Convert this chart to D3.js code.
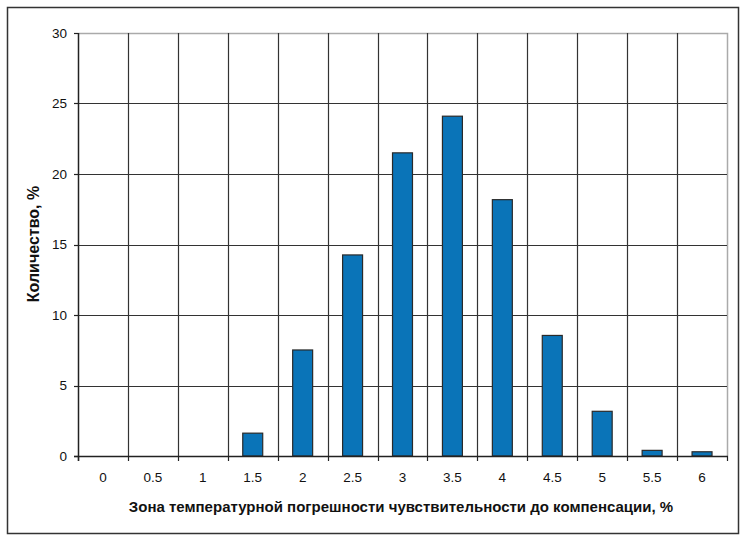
<!DOCTYPE html>
<html><head><meta charset="utf-8">
<script src="https://cdn.jsdelivr.net/npm/d3@7"></script>
<style>body{margin:0;background:#fff}svg{display:block}text{font-family:"Liberation Sans",Arial,sans-serif}</style>
</head><body><svg id="c" width="750" height="543"></svg>
<script>
const categories = ["0","0.5","1","1.5","2","2.5","3","3.5","4","4.5","5","5.5","6"];
const values = [0,0,0,1.62,7.52,14.26,21.5,24.1,18.18,8.55,3.17,0.4,0.3];
const yTicks = [0,5,10,15,20,25,30];
const yTitle = "Количество, %";
const xTitle = "Зона температурной погрешности чувствительности до компенсации, %";

const svg = d3.select("#c");
const L=78,R=727,T=33,B=456;
svg.append("rect").attr("x",7.5).attr("y",7.5).attr("width",731).attr("height",526)
  .attr("fill","#fff").attr("stroke","#333").attr("stroke-width",1.5);

const x = d3.scaleBand().domain(categories).range([L,R]).paddingInner(0.6).paddingOuter(0.3);
const y = d3.scaleLinear().domain([0,30]).range([B,T]);
const step = x.step();
const bounds = categories.map(c=>x(c)-step*0.3).concat([R]);

// plot border (top/right light gray)
svg.append("path").attr("d",`M${L},${T+0.5}H${R+0.5}V${B}`).attr("fill","none").attr("stroke","#aaa").attr("stroke-width",1.5);

// horizontal gridlines
svg.append("g").selectAll("line").data(yTicks.filter(t=>t>0&&t<30)).join("line")
  .attr("x1",L).attr("x2",R).attr("y1",d=>Math.round(y(d))+0.5).attr("y2",d=>Math.round(y(d))+0.5)
  .attr("stroke","#333").attr("stroke-width",1.2);
// vertical gridlines
svg.append("g").selectAll("line").data(bounds.slice(1,-1)).join("line")
  .attr("x1",d=>Math.round(d)+0.5).attr("x2",d=>Math.round(d)+0.5).attr("y1",T).attr("y2",B)
  .attr("stroke","#333").attr("stroke-width",1.2);

// bars
svg.append("g").selectAll("rect").data(categories.map((c,i)=>({c,v:values[i]})).filter(d=>d.v>0)).join("rect")
  .attr("x",d=>x(d.c)).attr("width",x.bandwidth())
  .attr("y",d=>y(d.v)).attr("height",d=>B-y(d.v))
  .attr("fill","#0A74B8").attr("stroke","#2a2a2a").attr("stroke-width",1.2);

// axes lines
svg.append("line").attr("x1",L+0.5).attr("x2",L+0.5).attr("y1",T).attr("y2",B+5).attr("stroke","#222").attr("stroke-width",1.5);
svg.append("line").attr("x1",L-4).attr("x2",R+1).attr("y1",B+0.5).attr("y2",B+0.5).attr("stroke","#222").attr("stroke-width",1.5);
// y ticks
svg.append("g").selectAll("line").data(yTicks).join("line")
  .attr("x1",L-4).attr("x2",L).attr("y1",d=>Math.round(y(d))+0.5).attr("y2",d=>Math.round(y(d))+0.5)
  .attr("stroke","#222").attr("stroke-width",1.2);
svg.append("g").selectAll("text").data(yTicks).join("text")
  .attr("x",L-11).attr("y",d=>y(d)).attr("dy","0.35em").attr("text-anchor","end")
  .attr("font-size",13.5).attr("fill","#111").text(d=>d);
// x ticks
svg.append("g").selectAll("line").data(bounds).join("line")
  .attr("x1",d=>Math.round(d)+0.5).attr("x2",d=>Math.round(d)+0.5).attr("y1",B).attr("y2",B+5)
  .attr("stroke","#222").attr("stroke-width",1.2);
svg.append("g").selectAll("text").data(categories).join("text")
  .attr("x",d=>x(d)+x.bandwidth()/2).attr("y",477).attr("dy","0.35em").attr("text-anchor","middle")
  .attr("font-size",13.5).attr("fill","#111").text(d=>d);

// titles
svg.append("text").attr("x",401).attr("y",512).attr("text-anchor","middle")
  .attr("font-size",15).attr("font-weight","bold").attr("fill","#111").text(xTitle);
svg.append("text").attr("transform","translate(39,244) rotate(-90)").attr("text-anchor","middle")
  .attr("font-size",16).attr("font-weight","bold").attr("fill","#111").text(yTitle);
</script></body></html>
